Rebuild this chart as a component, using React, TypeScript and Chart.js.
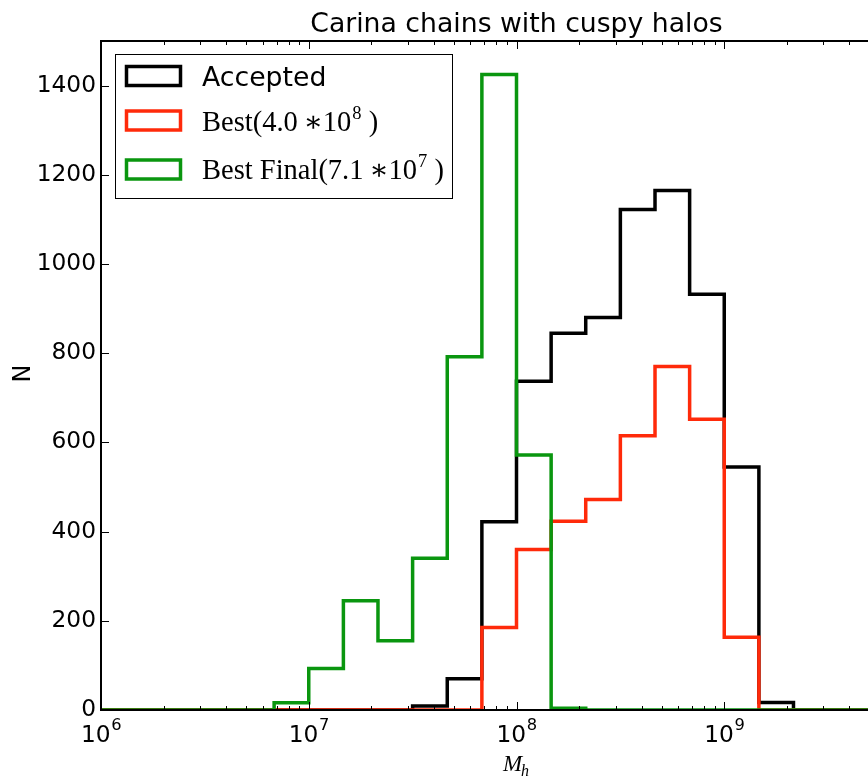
import React, { useEffect, useRef } from "react";
import { Chart, registerables } from "chart.js";

Chart.register(...registerables);

// ---- data ----
const binEdges = [
  1.0e6, 1.468e6, 2.154e6, 3.162e6, 4.642e6, 6.813e6,
  1.0e7, 1.468e7, 2.154e7, 3.162e7, 4.642e7, 6.813e7,
  1.0e8, 1.468e8, 2.154e8, 3.162e8, 4.642e8, 6.813e8,
  1.0e9, 1.468e9, 2.154e9, 3.162e9, 4.642e9, 6.813e9,
  1.0e10,
];
const acceptedCounts = [0, 0, 0, 0, 0, 0, 0, 0, 0, 9, 70, 422, 737, 845, 880, 1122, 1165, 932, 545, 17, 0, 0, 0, 0];
const bestCounts = [0, 0, 0, 0, 0, 0, 0, 0, 0, 0, 0, 185, 360, 423, 472, 615, 770, 652, 163, 0, 0, 0, 0, 0];
const bestFinalCounts = [0, 0, 0, 0, 0, 16, 93, 245, 155, 340, 792, 1425, 572, 4, 0, 0, 0, 0, 0, 0, 0, 0, 0, 0];

const seriesNames = ["Accepted", "Best", "Best Final"];
const seriesColors = ["#000000", "#ff2a0a", "#0a960f"];
// legend label pieces: [text, superscript, trailing]
const legendTexts = [
  ["Accepted", "", ""],
  ["Best(4.0\u2009\u221710", "8", " )"],
  ["Best Final(7.1\u2009\u221710", "7", " )"],
];

const yTicks = [0, 200, 400, 600, 800, 1000, 1200, 1400];
const xMajorTicks = [1e6, 1e7, 1e8, 1e9, 1e10];
const xTickBase = "10";
const xTickExponents = ["6", "7", "8", "9", "10"];
const xMinorMultipliers = [2, 3, 4, 5, 6, 7, 8, 9];

const titleText = "Carina chains with cuspy halos";
const yLabelText = "N";
const xLabelMain = "M";
const xLabelSub = "h";

const X_MIN = 1e6;
const X_MAX = 1e10;
const Y_MIN = 0;
const Y_MAX = 1500;

const CANVAS_W = 960;
const CANVAS_H = 779;

const SANS = "'DejaVu Sans', sans-serif";
const SERIF = "'Liberation Serif', 'DejaVu Serif', serif";
const TICK_SIZE = 23.3;
const EXP_SIZE = 16.3;

function stepPoints(counts: number[]) {
  const pts = counts.map((c, i) => ({ x: binEdges[i], y: c }));
  const last = binEdges[binEdges.length - 1];
  pts.push({ x: last, y: counts[counts.length - 1] });
  pts.push({ x: last, y: 0 });
  return pts;
}

const framePlugin = {
  id: "framePlugin",
  beforeDraw(chart: any) {
    const ctx = chart.ctx;
    ctx.save();
    ctx.fillStyle = "#ffffff";
    ctx.fillRect(0, 0, chart.width, chart.height);
    ctx.restore();
  },
  afterDatasetsDraw(chart: any) {
    const ctx = chart.ctx;
    const a = chart.chartArea;
    const xs = chart.scales.x;
    const ys = chart.scales.y;
    ctx.save();
    ctx.strokeStyle = "#000";
    ctx.lineWidth = 1;
    const drawX = (v: number, len: number) => {
      const px = Math.round(xs.getPixelForValue(v)) + 0.5;
      ctx.beginPath();
      ctx.moveTo(px, a.bottom);
      ctx.lineTo(px, a.bottom - len);
      ctx.moveTo(px, a.top);
      ctx.lineTo(px, a.top + len);
      ctx.stroke();
    };
    xMajorTicks.forEach((v) => drawX(v, 8));
    for (let d = 0; d < xMajorTicks.length - 1; d++) {
      xMinorMultipliers.forEach((m) => drawX(xMajorTicks[d] * m, 4));
    }
    yTicks.forEach((v) => {
      const py = Math.round(ys.getPixelForValue(v)) + 0.5;
      ctx.beginPath();
      ctx.moveTo(a.left, py);
      ctx.lineTo(a.left + 8, py);
      ctx.moveTo(a.right, py);
      ctx.lineTo(a.right - 8, py);
      ctx.stroke();
    });
    ctx.lineWidth = 2;
    ctx.strokeRect(a.left, a.top, a.right - a.left, a.bottom - a.top);
    ctx.restore();
  },
  afterDraw(chart: any) {
    const ctx = chart.ctx;
    const a = chart.chartArea;
    const xs = chart.scales.x;
    ctx.save();
    ctx.fillStyle = "#000";
    // title
    ctx.font = `26.7px ${SANS}`;
    ctx.textAlign = "center";
    ctx.textBaseline = "alphabetic";
    ctx.fillText(titleText, (a.left + a.right) / 2, a.top - 9);

    // x tick labels
    xMajorTicks.forEach((v, i) => {
      const px = xs.getPixelForValue(v);
      ctx.font = `${TICK_SIZE}px ${SANS}`;
      const wb = ctx.measureText(xTickBase).width;
      ctx.font = `${EXP_SIZE}px ${SANS}`;
      const we = ctx.measureText(xTickExponents[i]).width;
      const start = px - (wb + we) / 2;
      ctx.textAlign = "left";
      ctx.font = `${TICK_SIZE}px ${SANS}`;
      ctx.fillText(xTickBase, start, a.bottom + 32);
      ctx.font = `${EXP_SIZE}px ${SANS}`;
      ctx.fillText(xTickExponents[i], start + wb + 0.5, a.bottom + 20);
    });

    // x label
    ctx.font = `italic 23px ${SERIF}`;
    const wm = ctx.measureText(xLabelMain).width;
    ctx.font = `italic 16px ${SERIF}`;
    const wh = ctx.measureText(xLabelSub).width;
    const cx = (a.left + a.right) / 2;
    const sx = cx - (wm + wh) / 2;
    ctx.textAlign = "left";
    ctx.font = `italic 23px ${SERIF}`;
    ctx.fillText(xLabelMain, sx, a.bottom + 60.5);
    ctx.font = `italic 16px ${SERIF}`;
    ctx.fillText(xLabelSub, sx + wm - 1, a.bottom + 65.5);

    // y label
    ctx.save();
    ctx.translate(24, (a.top + a.bottom) / 2 - 2);
    ctx.rotate(-Math.PI / 2);
    ctx.textAlign = "center";
    ctx.textBaseline = "middle";
    ctx.font = `24px ${SANS}`;
    ctx.fillText(yLabelText, 0, 0);
    ctx.restore();

    // legend
    const lx = a.left + 14.5;
    const ly = a.top + 13.5;
    ctx.lineWidth = 1;
    ctx.strokeStyle = "#000";
    ctx.fillStyle = "#fff";
    ctx.fillRect(lx, ly, 337, 144);
    ctx.strokeRect(lx, ly, 337, 144);
    const rowHandleTop = [66, 110.5, 159.5];
    const rowBaseline = [86, 130.5, 178.5];
    const datasets = chart.data.datasets;
    legendTexts.forEach((parts, i) => {
      const ds = datasets.find((d: any) => d.label === seriesNames[i]);
      ctx.strokeStyle = ds ? ds.borderColor : "#000";
      ctx.lineWidth = 3.5;
      ctx.strokeRect(126.5, rowHandleTop[i] + 0.5, 54, 19);
      ctx.fillStyle = "#000";
      ctx.textAlign = "left";
      ctx.textBaseline = "alphabetic";
      const tx = 202;
      const by = rowBaseline[i];
      if (!parts[1]) {
        ctx.font = `26.7px ${SANS}`;
        ctx.fillText(parts[0], tx, by);
      } else {
        ctx.font = `28.5px ${SERIF}`;
        ctx.fillText(parts[0], tx, by);
        const w0 = ctx.measureText(parts[0]).width;
        ctx.font = `18.5px ${SERIF}`;
        ctx.fillText(parts[1], tx + w0 + 1, by - 12);
        const w1 = ctx.measureText(parts[1]).width;
        ctx.font = `28.5px ${SERIF}`;
        ctx.fillText(parts[2], tx + w0 + 1 + w1, by);
      }
    });
    ctx.restore();
  },
};

export default function App() {
  const canvasRef = useRef<HTMLCanvasElement | null>(null);

  useEffect(() => {
    const canvas = canvasRef.current;
    if (!canvas) return;
    const datasets = [
      { counts: acceptedCounts, order: 3 },
      { counts: bestCounts, order: 2 },
      { counts: bestFinalCounts, order: 1 },
    ].map((s, i) => ({
      label: seriesNames[i],
      data: stepPoints(s.counts),
      borderColor: seriesColors[i],
      backgroundColor: seriesColors[i],
      borderWidth: 3.5,
      pointRadius: 0,
      pointHoverRadius: 0,
      fill: false,
      stepped: true as const,
      tension: 0,
      borderJoinStyle: "miter" as const,
      borderCapStyle: "butt" as const,
      order: s.order,
    }));

    const chart = new Chart(canvas, {
      type: "line",
      data: { datasets },
      options: {
        responsive: false,
        animation: false,
        devicePixelRatio: 1,
        layout: {
          padding: { left: 0, top: 41, right: CANVAS_W - 932, bottom: CANVAS_H - 710 },
        },
        plugins: {
          legend: { display: false },
          title: { display: false },
          tooltip: { enabled: false },
        },
        scales: {
          x: {
            type: "logarithmic",
            min: X_MIN,
            max: X_MAX,
            grid: { display: false, drawTicks: false },
            border: { display: false },
            ticks: { display: false },
            afterFit: (s: any) => {
              s.height = 0;
            },
          },
          y: {
            type: "linear",
            min: Y_MIN,
            max: Y_MAX,
            grid: { display: false, drawTicks: false },
            border: { display: false },
            ticks: {
              color: "#000",
              padding: 5,
              font: { family: "'DejaVu Sans', sans-serif", size: TICK_SIZE },
              callback: (v: any) => String(v),
            },
            afterBuildTicks: (s: any) => {
              s.ticks = yTicks.map((v) => ({ value: v }));
            },
            afterFit: (s: any) => {
              s.width = 101;
            },
          },
        },
      },
      plugins: [framePlugin],
    });
    return () => chart.destroy();
  }, []);

  return (
    <div
      style={{
        position: "fixed",
        left: 0,
        top: 0,
        width: 868,
        height: 779,
        overflow: "hidden",
        background: "#fff",
      }}
    >
      <canvas
        ref={canvasRef}
        width={CANVAS_W}
        height={CANVAS_H}
        style={{ display: "block", width: CANVAS_W, height: CANVAS_H }}
      />
    </div>
  );
}
